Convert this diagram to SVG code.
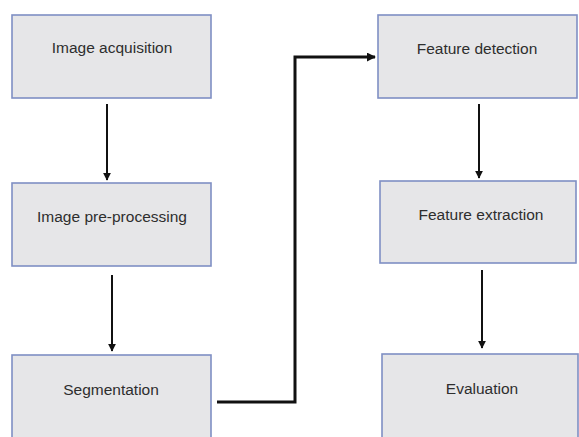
<svg xmlns="http://www.w3.org/2000/svg" width="579" height="437" viewBox="0 0 579 437">
<style>
.box{fill:#e6e6e8;stroke:#7f8fc4;stroke-width:1.6}
.lbl{font-family:"Liberation Sans",Arial,sans-serif;font-size:15.5px;fill:#2e2e2e;text-anchor:middle}
.arr{fill:none;stroke:#111;stroke-width:2;marker-end:url(#ah)}
.arr2{fill:none;stroke:#111;stroke-width:3;marker-end:url(#ah2)}
</style>
<defs>
<marker id="ah" viewBox="0 0 10 10" refX="9" refY="5" markerWidth="4" markerHeight="4" orient="auto" markerUnits="strokeWidth">
<path d="M0,0 L10,5 L0,10 z" fill="#111"/>
</marker>
<marker id="ah2" viewBox="0 0 10 10" refX="9" refY="5" markerWidth="3" markerHeight="3" orient="auto" markerUnits="strokeWidth">
<path d="M0,0 L10,5 L0,10 z" fill="#111"/>
</marker>
</defs>
<rect width="579" height="437" fill="#ffffff"/>
<g id="connectors">
<path class="arr" d="M107,104 V180"/>
<path class="arr" d="M112,275 V351"/>
<path class="arr" d="M479,104 V178"/>
<path class="arr" d="M482,270 V348"/>
<path class="arr2" d="M217,402 H295 V57 H375"/>
</g>
<g id="n1">
<rect class="box" x="12" y="15" width="199" height="83"/>
<text class="lbl" x="112" y="53">Image acquisition</text>
</g>
<g id="n2">
<rect class="box" x="12" y="183" width="199" height="83"/>
<text class="lbl" x="112" y="222">Image pre-processing</text>
</g>
<g id="n3">
<rect class="box" x="12" y="355" width="199" height="90"/>
<text class="lbl" x="111" y="395">Segmentation</text>
</g>
<g id="n4">
<rect class="box" x="378" y="15" width="199" height="83"/>
<text class="lbl" x="477" y="54">Feature detection</text>
</g>
<g id="n5">
<rect class="box" x="380" y="181" width="196" height="82"/>
<text class="lbl" x="481" y="220">Feature extraction</text>
</g>
<g id="n6">
<rect class="box" x="382" y="354" width="196" height="90"/>
<text class="lbl" x="482" y="394">Evaluation</text>
</g>
</svg>
